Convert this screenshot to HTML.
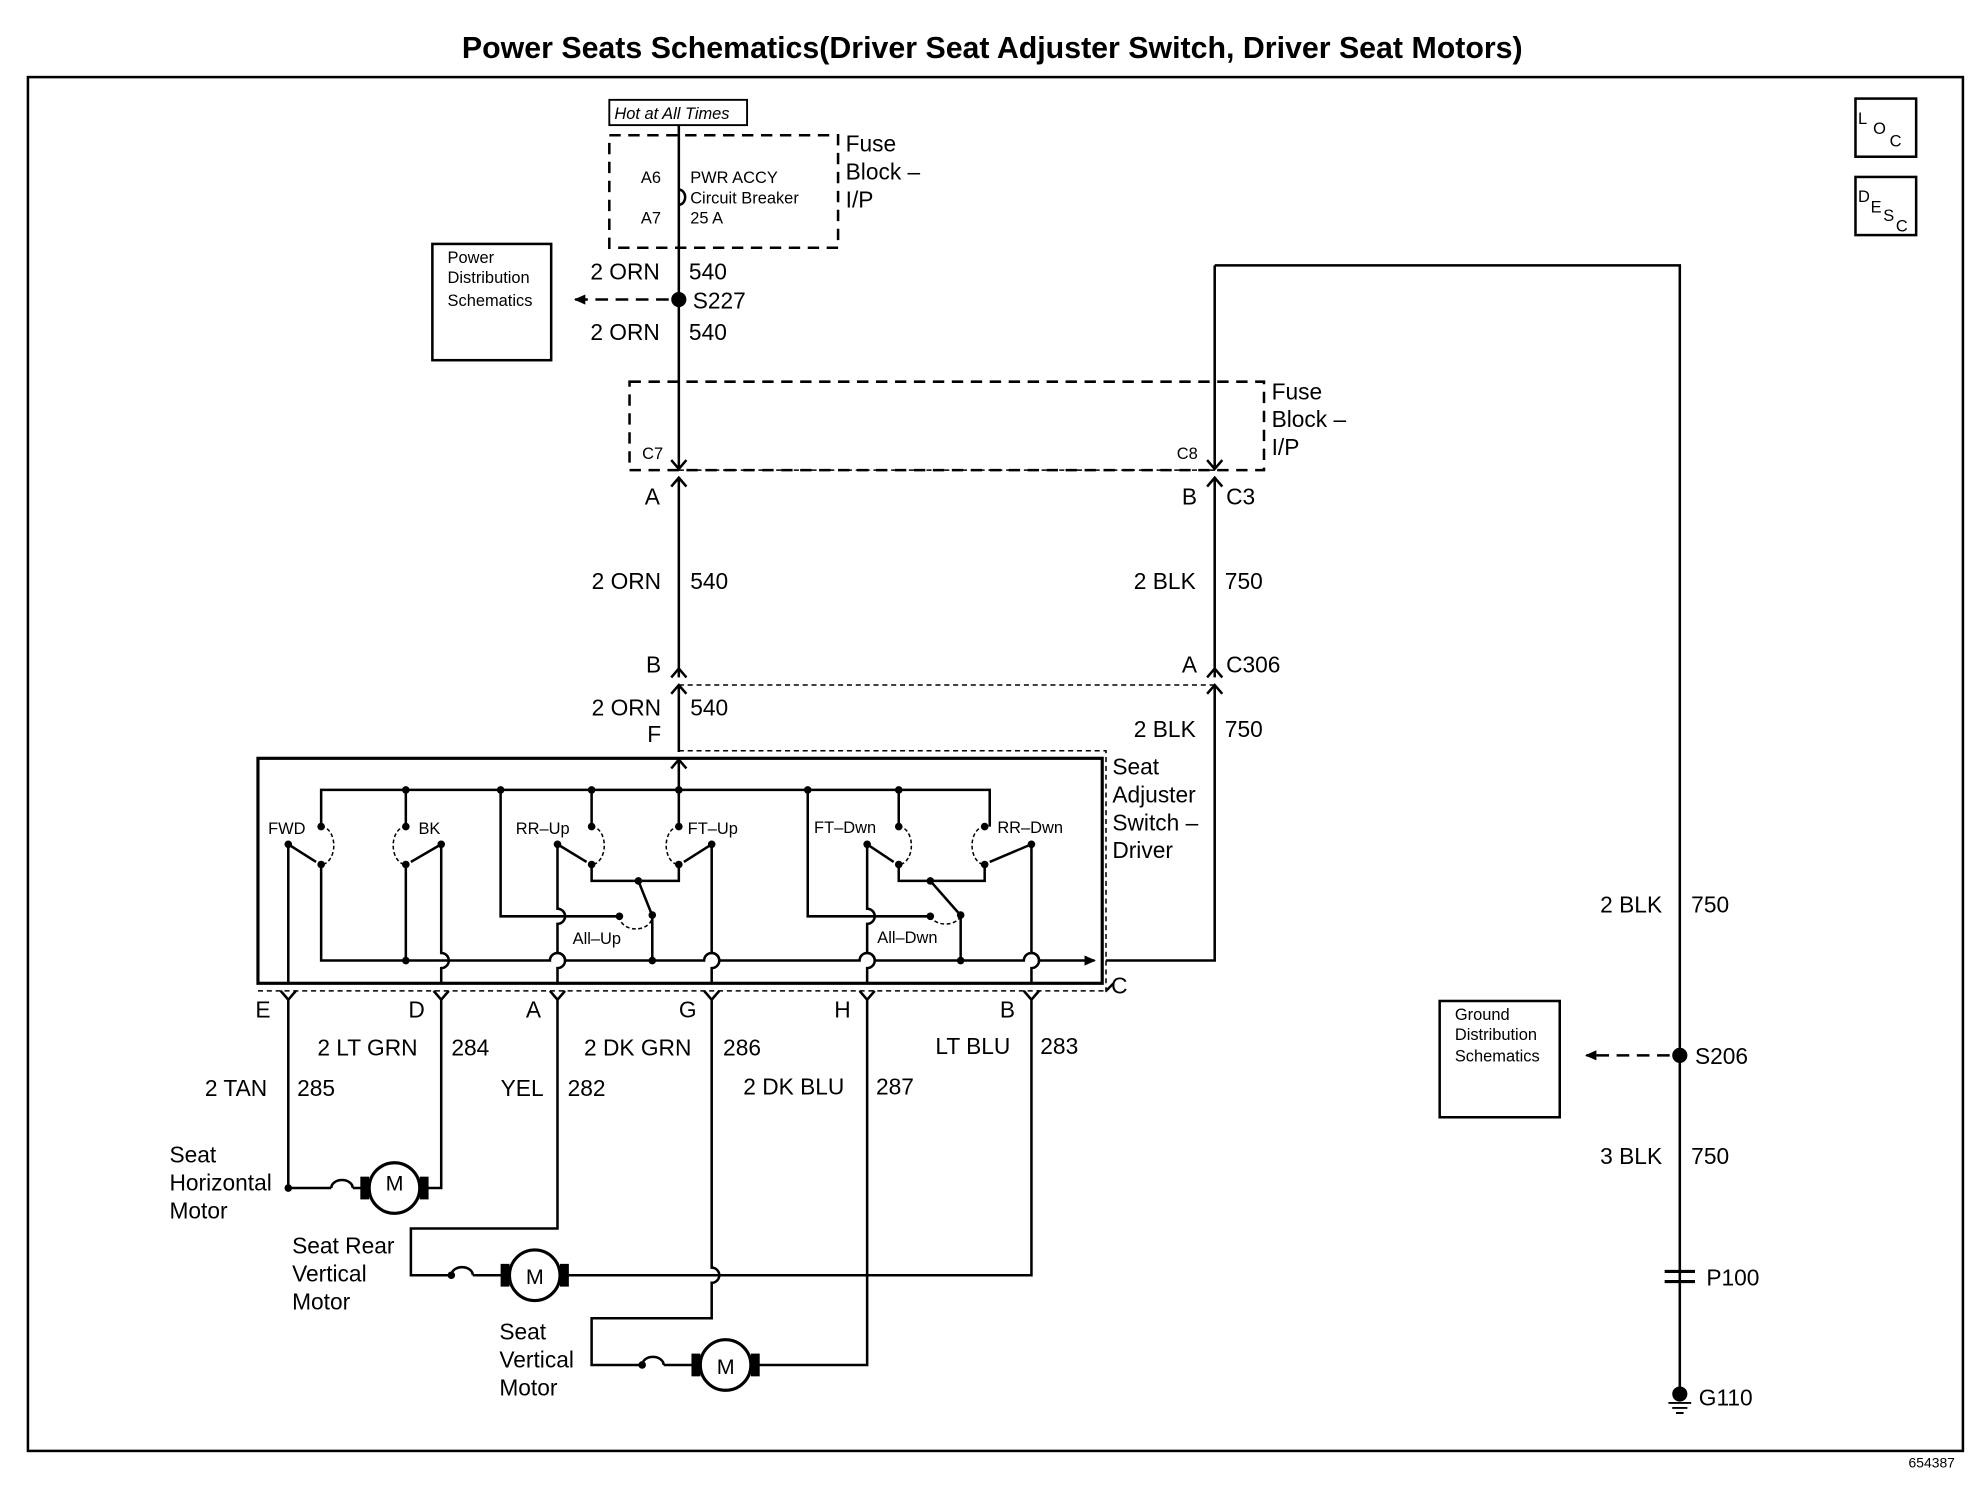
<!DOCTYPE html>
<html><head><meta charset="utf-8"><style>
html,body{margin:0;padding:0;background:#fff}
svg{display:block}
text{font-family:"Liberation Sans",Arial,sans-serif;fill:#000}
</style></head><body>
<svg width="1982" height="1504" viewBox="0 0 1568 1190" xmlns="http://www.w3.org/2000/svg">
<defs>
<marker id="ah" markerWidth="10" markerHeight="10" refX="8" refY="5" orient="auto" markerUnits="userSpaceOnUse"><path d="M0,1 L9,5 L0,9 Z" fill="#000"/></marker>
</defs>
<g stroke="#000" fill="none" stroke-width="2">
<text x="785" y="46" text-anchor="middle" font-size="24" font-weight="bold" stroke="none">Power Seats Schematics(Driver Seat Adjuster Switch, Driver Seat Motors)</text>
<rect x="22" y="61" width="1531" height="1087"/>
<rect x="1468" y="78" width="48" height="46"/>
<rect x="1468" y="140" width="48" height="46"/>
<rect x="482" y="79" width="109" height="20" stroke-width="1.5"/>
<rect x="482" y="107" width="181" height="89" stroke-dasharray="9,6"/>
<path d="M537 99 V360"/>
<path d="M537 150 a5 6 0 0 1 0 12" />
<rect x="342" y="193" width="94" height="92"/>
<path d="M529 237 H455" stroke-dasharray="10,6" marker-end="url(#ah)"/>
<circle cx="537" cy="237" r="5" fill="#000"/>
<rect x="498" y="302" width="502" height="70" stroke-dasharray="9,6"/>
<path d="M537 360 v10 M531 364 l6 7 l6 -7"/>
<path d="M961 210 V370 M955 364 l6 7 l6 -7"/>
<path d="M961 210 H1329 V1100"/>
<path d="M537 372 H961" stroke-width="1.2" stroke-dasharray="4,3"/>
<path d="M531 385 l6 -7 l6 7 M537 378 V536 M955 385 l6 -7 l6 7 M961 378 V536"/>
<path d="M531 536 l6 -7 l6 7 M955 536 l6 -7 l6 7"/>
<path d="M537 542 H961" stroke-width="1.2" stroke-dasharray="4,3"/>
<path d="M531 549 l6 -7 l6 7 M537 542 V595 M955 549 l6 -7 l6 7 M961 542 V760 H875"/>
<path d="M537 594 H875 V785" stroke-width="1.2" stroke-dasharray="4,3"/>
<rect x="204" y="600" width="668" height="178" stroke-width="2.5"/>
<path d="M531 608 l6 -7 l6 7 M537 601 V625"/>
<path d="M254 654 V625 H783 V654"/>
<path d="M321 625 V654 M468 625 V654 M396 625 V725 H490 M711 625 V654 M639 625 V725 H736 M537 625 V654"/>
<path d="M254 684 V760 H435 a6 6 0 0 1 12 0 H557 a6 6 0 0 1 12 0 H680 a6 6 0 0 1 12 0 H810 a6 6 0 0 1 12 0 H866" marker-end="url(#ah)"/>
<path d="M321 684 V760 M516 724 V760 M760 724 V760"/>
<path d="M468 684 V697 H537 V684 M711 684 V697 H779 V684"/>
<path d="M228 668 V777 M349 668 V754 a6 6 0 0 1 0 12 V777 M441 668 V719 a6 6 0 0 1 0 12 V754 a6 6 0 0 1 0 12 V777 M563 668 V754 a6 6 0 0 1 0 12 V777 M686 668 V719 a6 6 0 0 1 0 12 V754 a6 6 0 0 1 0 12 V777 M816 668 V754 a6 6 0 0 1 0 12 V777"/>
<path d="M228 668 L250 682 M349 668 L325 682 M441 668 L464 682 M563 668 L541 682 M686 668 L707 682 M816 668 L783 682 M505 697 L515 722 M736 697 L758 722"/>
<g stroke-width="1.2" stroke-dasharray="3,2"><path d="M254 654 a10 15 0 0 1 0 30 M321 654 a10 15 0 0 0 0 30 M468 654 a10 15 0 0 1 0 30 M537 654 a10 15 0 0 0 0 30 M711 654 a10 15 0 0 1 0 30 M779 654 a10 15 0 0 0 0 30 M490 725 a13 10 0 0 0 26 0 M736 725 a13 10 0 0 0 24 0"/></g>
<g fill="#000" stroke="none">
<circle cx="254" cy="654" r="3"/><circle cx="254" cy="684" r="3"/><circle cx="321" cy="625" r="3"/><circle cx="321" cy="654" r="3"/><circle cx="321" cy="684" r="3"/><circle cx="321" cy="760" r="3"/>
<circle cx="396" cy="625" r="3"/><circle cx="468" cy="625" r="3"/><circle cx="468" cy="654" r="3"/><circle cx="468" cy="684" r="3"/><circle cx="537" cy="625" r="3"/><circle cx="537" cy="654" r="3"/><circle cx="537" cy="684" r="3"/><circle cx="490" cy="725" r="3"/><circle cx="516" cy="724" r="3"/><circle cx="505" cy="697" r="3"/><circle cx="516" cy="760" r="3"/>
<circle cx="639" cy="625" r="3"/><circle cx="711" cy="625" r="3"/><circle cx="711" cy="654" r="3"/><circle cx="711" cy="684" r="3"/><circle cx="779" cy="654" r="3"/><circle cx="779" cy="684" r="3"/><circle cx="736" cy="725" r="3"/><circle cx="760" cy="724" r="3"/><circle cx="736" cy="697" r="3"/><circle cx="760" cy="760" r="3"/>
<circle cx="228" cy="668" r="3"/><circle cx="349" cy="668" r="3"/><circle cx="441" cy="668" r="3"/><circle cx="563" cy="668" r="3"/><circle cx="686" cy="668" r="3"/><circle cx="816" cy="668" r="3"/>
</g>
<path d="M204 784 H875" stroke-width="1.2" stroke-dasharray="4,3"/>
<path d="M222 784 l6 7 l6 -7 M343 784 l6 7 l6 -7 M435 784 l6 7 l6 -7 M557 784 l6 7 l6 -7 M680 784 l6 7 l6 -7 M810 784 l6 7 l6 -7 M875 784 l6 -6"/>
<path d="M228 790 V940 H262 M279 940 H288 M336 940 H349 V790"/>
<path d="M262 940 a8 6 0 0 1 17 0" />
<path d="M441 790 V972 H325 V1009 H357 M374 1009 H399 M447 1009 H816 V790"/>
<path d="M357 1009 a8 6 0 0 1 17 0"/>
<path d="M563 790 V1003 a6 6 0 0 1 0 12 V1043 H468 V1080 H508 M525 1080 H550 M598 1080 H686 V790"/>
<path d="M508 1080 a8 6 0 0 1 17 0"/>
<circle cx="312" cy="940" r="20" stroke-width="2.5"/><rect x="286" y="932" width="5" height="16" fill="#000"/><rect x="333" y="932" width="5" height="16" fill="#000"/>
<circle cx="423" cy="1009" r="20" stroke-width="2.5"/><rect x="397" y="1001" width="5" height="16" fill="#000"/><rect x="444" y="1001" width="5" height="16" fill="#000"/>
<circle cx="574" cy="1080" r="20" stroke-width="2.5"/><rect x="548" y="1072" width="5" height="16" fill="#000"/><rect x="595" y="1072" width="5" height="16" fill="#000"/>
<g fill="#000" stroke="none"><circle cx="228" cy="940" r="3"/><circle cx="357" cy="1009" r="3"/><circle cx="508" cy="1080" r="3"/></g>
<rect x="1139" y="792" width="95" height="92"/>
<path d="M1321 835 H1255" stroke-dasharray="10,6" marker-end="url(#ah)"/>
<circle cx="1329" cy="835" r="5" fill="#000"/>
<path d="M1317 1006 H1341 M1317 1014 H1341" stroke-width="2.5"/>
<circle cx="1329" cy="1103" r="5" fill="#000"/>
<path d="M1320 1110 H1338 M1323 1114 H1335 M1326 1118 H1332" stroke-width="1.5"/>
</g>
<g font-size="18">
<text x="669" y="120">Fuse</text><text x="669" y="142">Block –</text><text x="669" y="164">I/P</text>
<text x="1006" y="316">Fuse</text><text x="1006" y="338">Block –</text><text x="1006" y="360">I/P</text>
<text x="467" y="221">2 ORN</text><text x="545" y="221">540</text>
<text x="548" y="244">S227</text>
<text x="467" y="269">2 ORN</text><text x="545" y="269">540</text>
<text x="510" y="399">A</text><text x="935" y="399">B</text><text x="970" y="399">C3</text>
<text x="468" y="466">2 ORN</text><text x="546" y="466">540</text>
<text x="897" y="466">2 BLK</text><text x="969" y="466">750</text>
<text x="511" y="532">B</text><text x="935" y="532">A</text><text x="970" y="532">C306</text>
<text x="468" y="566">2 ORN</text><text x="546" y="566">540</text><text x="512" y="587">F</text>
<text x="897" y="583">2 BLK</text><text x="969" y="583">750</text>
<text x="880" y="613">Seat</text><text x="880" y="635">Adjuster</text><text x="880" y="657">Switch –</text><text x="880" y="679">Driver</text>
<text x="879" y="786">C</text>
<text x="202" y="805">E</text><text x="323" y="805">D</text><text x="416" y="805">A</text><text x="537" y="805">G</text><text x="660" y="805">H</text><text x="791" y="805">B</text>
<text x="251" y="835">2 LT GRN</text><text x="357" y="835">284</text>
<text x="462" y="835">2 DK GRN</text><text x="572" y="835">286</text>
<text x="740" y="834">LT BLU</text><text x="823" y="834">283</text>
<text x="162" y="867">2 TAN</text><text x="235" y="867">285</text>
<text x="396" y="867">YEL</text><text x="449" y="867">282</text>
<text x="588" y="866">2 DK BLU</text><text x="693" y="866">287</text>
<text x="134" y="920">Seat</text><text x="134" y="942">Horizontal</text><text x="134" y="964">Motor</text>
<text x="231" y="992">Seat Rear</text><text x="231" y="1014">Vertical</text><text x="231" y="1036">Motor</text>
<text x="395" y="1060">Seat</text><text x="395" y="1082">Vertical</text><text x="395" y="1104">Motor</text>
<text x="305" y="942" font-size="17">M</text><text x="416" y="1016" font-size="17">M</text><text x="567" y="1087" font-size="17">M</text>
<text x="1266" y="722">2 BLK</text><text x="1338" y="722">750</text>
<text x="1341" y="842">S206</text>
<text x="1266" y="921">3 BLK</text><text x="1338" y="921">750</text>
<text x="1350" y="1017">P100</text>
<text x="1344" y="1112">G110</text>
</g>
<g font-size="13">
<text x="486" y="94" font-style="italic">Hot at All Times</text>
<text x="507" y="145">A6</text><text x="507" y="177">A7</text>
<text x="546" y="145">PWR ACCY</text><text x="546" y="161">Circuit Breaker</text><text x="546" y="177">25 A</text>
<text x="354" y="208">Power</text><text x="354" y="224">Distribution</text><text x="354" y="242">Schematics</text>
<text x="508" y="363">C7</text><text x="931" y="363">C8</text>
<text x="212" y="660">FWD</text><text x="331" y="660">BK</text><text x="408" y="660">RR–Up</text><text x="544" y="660">FT–Up</text><text x="644" y="659">FT–Dwn</text><text x="789" y="659">RR–Dwn</text>
<text x="453" y="747">All–Up</text><text x="694" y="746">All–Dwn</text>
<text x="1151" y="807">Ground</text><text x="1151" y="823">Distribution</text><text x="1151" y="840">Schematics</text>
<text x="1470" y="98">L</text><text x="1482" y="106">O</text><text x="1495" y="116">C</text>
<text x="1470" y="160">D</text><text x="1480" y="168">E</text><text x="1490" y="175">S</text><text x="1500" y="183">C</text>
<text x="1510" y="1161" font-size="11">654387</text>
</g>
</svg>
</body></html>
